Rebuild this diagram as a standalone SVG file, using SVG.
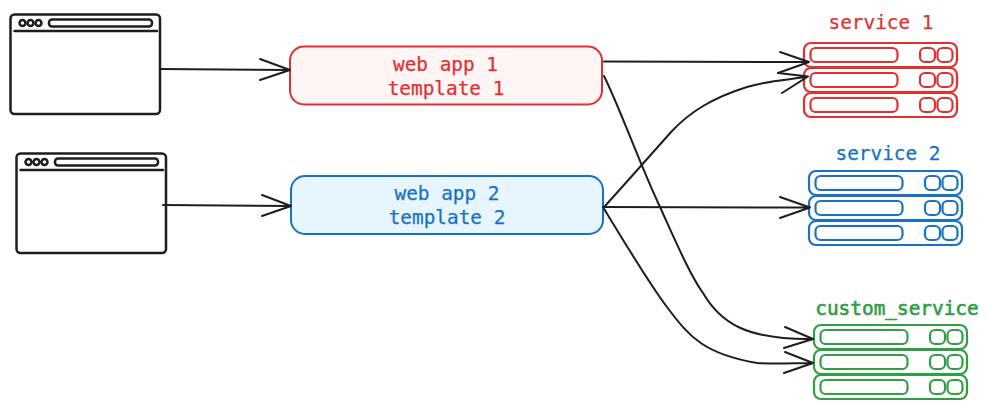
<svg xmlns="http://www.w3.org/2000/svg" width="989" height="409" viewBox="0 0 989 409">
<style>
.ln{fill:none;stroke-linecap:round;stroke-linejoin:round}
.k{stroke:#1e1e1e;stroke-width:2}
.win{fill:none;stroke:#1e1e1e;stroke-width:2.500;stroke-linecap:round;stroke-linejoin:round}
.r{stroke:#e03131}
.b{stroke:#1971c2}
.g{stroke:#2f9e44}
.srv{fill:none;stroke-width:2.200;stroke-linejoin:round}
text{font-family:"DejaVu Sans Mono","Liberation Mono",monospace;font-size:19.400px;text-anchor:middle;stroke-width:0.250px}
.tr{fill:#e03131;stroke:#e03131}.tb{fill:#1971c2;stroke:#1971c2}.tg{fill:#2f9e44;stroke:#2f9e44;stroke-width:0.600px}
</style>
<defs>
<g id="browser">
<rect x="0.5" y="0.5" width="149.5" height="99.5" rx="4"/>
<line x1="4.5" y1="17" x2="147" y2="17"/>
<circle cx="12.5" cy="9" r="3"/><circle cx="20.5" cy="9" r="3"/><circle cx="28.5" cy="9" r="3"/>
<rect x="39" y="5.5" width="103" height="7" rx="3"/>
</g>
<g id="rack">
<rect x="0" y="0" width="153" height="24" rx="7"/>
<rect x="0" y="25" width="153" height="24" rx="7"/>
<rect x="0" y="50" width="153" height="24" rx="7"/>
<rect x="6.500" y="5" width="87" height="14" rx="5"/>
<rect x="6.500" y="30" width="87" height="14" rx="5"/>
<rect x="6.500" y="55" width="87" height="14" rx="5"/>
<rect x="116" y="5" width="15" height="14" rx="5"/>
<rect x="133.500" y="5" width="15" height="14" rx="5"/>
<rect x="116" y="30" width="15" height="14" rx="5"/>
<rect x="133.500" y="30" width="15" height="14" rx="5"/>
<rect x="116" y="55" width="15" height="14" rx="5"/>
<rect x="133.500" y="55" width="15" height="14" rx="5"/>
</g>
</defs>
<g id="browser-1"><use href="#browser" x="10" y="14" class="win"/></g>
<g id="browser-2"><use href="#browser" x="16" y="153" class="win"/></g>
<g id="web-app-1">
<rect x="290" y="46.500" width="312" height="58" rx="14" fill="#fff5f5" stroke="#e03131" stroke-width="2"/>
<text class="tr" x="445.500" y="71">web app 1</text>
<text class="tr" x="446" y="95">template 1</text>
</g>
<g id="web-app-2">
<rect x="291" y="176" width="312" height="58" rx="14" fill="#e7f5ff" stroke="#1971c2" stroke-width="2"/>
<text class="tb" x="447" y="200">web app 2</text>
<text class="tb" x="447" y="224">template 2</text>
</g>
<g id="service-1">
<text class="tr" x="881" y="29">service 1</text>
<use href="#rack" x="804" y="43" class="srv r"/>
</g>
<g id="service-2">
<text class="tb" x="888" y="160">service 2</text>
<use href="#rack" x="809" y="171" class="srv b"/>
</g>
<g id="custom-service">
<text class="tg" x="897" y="315">custom_service</text>
<use href="#rack" x="814" y="325" class="srv g"/>
</g>
<g id="connectors" class="ln k">
<path d="M160 69 L290 70 M260 59 L290 70 L260 80"/>
<path d="M163 205 L291 206 M262 195 L291 206 L262 216"/>
<path d="M604 61.500 L809 62 M780 52 L809 62 L778 73"/>
<path d="M605 206 C625 184 655 150 672 131 C690 112 712 98 747 87 C770 80 790 80 808 76.500 M778 73 L808 76.500 L782 93"/>
<path d="M604 207 L810 207.500 M780 197 L810 207.500 L780 218"/>
<path d="M604 76 C620 108 640 165 660 207 C675 240 690 275 703 293 C720 322 745 340 813 339 M785 327 L813 339 L784 348"/>
<path d="M603 207 C620 235 650 285 667 307 C690 338 705 354 757 363 C775 364 795 363 813 363 M785 352 L813 363 L784 373"/>
</g>
</svg>
